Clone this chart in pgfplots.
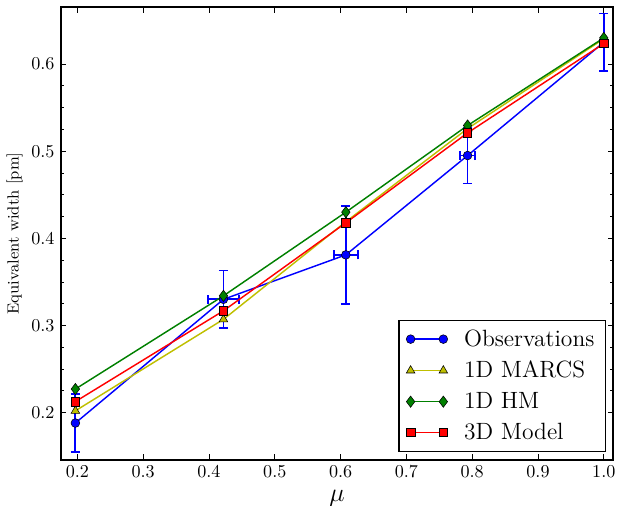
\documentclass[border=0pt]{standalone}
\usepackage{pgfplots}
\pgfplotsset{compat=1.18}
\usepackage{pgfplotstable}
\definecolor{mplyellow}{rgb}{0.75,0.75,0}
\definecolor{mplgreen}{rgb}{0,0.5,0}
\definecolor{errblue}{rgb}{0,0,1}
\pgfplotstableread{
x y
0.197 0.188
0.422 0.330
0.608 0.381
0.793 0.495
1.000 0.625
}\obs
\pgfplotstableread{
x y
0.197 0.202
0.422 0.307
0.608 0.419
0.793 0.526
1.000 0.629
}\marcs
\pgfplotstableread{
x y
0.197 0.227
0.422 0.334
0.608 0.430
0.793 0.5295
1.000 0.630
}\hm
\pgfplotstableread{
x y
0.197 0.2126
0.422 0.3168
0.608 0.4178
0.793 0.521
1.000 0.6236
}\threed
\begin{document}
\begin{tikzpicture}
\begin{axis}[
  scale only axis,
  width=303.6bp, height=249bp,
  xmin=0.175, xmax=1.014,
  ymin=0.1457, ymax=0.6654,
  xtick={0.2,0.3,...,1.0},
  ytick={0.2,0.3,0.4,0.5,0.6},
  minor y tick num=3,
  tick align=inside,
  major tick length=3bp,
  minor tick length=1.7bp,
  tick style={black, line width=0.4pt},
  axis line style={line width=0.8pt},
  ticklabel style={font=\fontsize{10}{12}\selectfont},
  xticklabel style={/pgf/number format/.cd, fixed, fixed zerofill, precision=1},
  yticklabel style={/pgf/number format/.cd, fixed, fixed zerofill, precision=1},
  xlabel={$\mu$},
  xlabel style={font=\fontsize{15}{17}\selectfont, yshift=0bp},
  ylabel={Equivalent width [pm]},
  ylabel style={font=\fontsize{8.9}{10}\selectfont, yshift=-2bp},
  unbounded coords=jump,
  legend cell align=left,
  legend style={at={(0.987,0.018)}, anchor=south east, draw=black, line width=0.6pt,
    font=\fontsize{13}{15}\selectfont, row sep=2.6bp, inner xsep=4bp, inner ysep=3bp},
  legend image code/.code={\draw[mark repeat=2, mark phase=1, line width=0.8pt] plot coordinates {(0bp,0bp) (9bp,0bp) (18bp,0bp)}; \path (27bp,0bp);},
]
% error bars of the observations (bars and caps)
\addplot[draw=errblue, color=errblue, line width=1bp, forget plot, mark=none] coordinates {
  (0.197,0.155) (0.197,0.221) (nan,nan)
  (0.422,0.297) (0.422,0.363) (nan,nan)
  (0.608,0.325) (0.608,0.437) (nan,nan)
  (0.793,0.463) (0.793,0.527) (nan,nan)
  (1.000,0.592) (1.000,0.658) (nan,nan)
  (0.398,0.330) (0.446,0.330) (nan,nan)
  (0.590,0.381) (0.626,0.381) (nan,nan)
  (0.782,0.495) (0.804,0.495) (nan,nan)
  (0.190,0.155) (0.204,0.155) (nan,nan)
  (0.190,0.221) (0.204,0.221) (nan,nan)
  (0.415,0.297) (0.429,0.297) (nan,nan)
  (0.415,0.363) (0.429,0.363) (nan,nan)
  (0.601,0.325) (0.615,0.325) (nan,nan)
  (0.601,0.437) (0.615,0.437) (nan,nan)
  (0.786,0.463) (0.800,0.463) (nan,nan)
  (0.786,0.527) (0.800,0.527) (nan,nan)
  (0.993,0.592) (1.007,0.592) (nan,nan)
  (0.993,0.658) (1.007,0.658) (nan,nan)
  (0.398,0.3248) (0.398,0.3352) (nan,nan)
  (0.446,0.3248) (0.446,0.3352) (nan,nan)
  (0.590,0.3758) (0.590,0.3862) (nan,nan)
  (0.626,0.3758) (0.626,0.3862) (nan,nan)
  (0.782,0.4898) (0.782,0.5002) (nan,nan)
  (0.804,0.4898) (0.804,0.5002)
};
\addplot[blue, line width=0.8pt, mark=*, mark size=2.4bp, mark options={draw=black, fill=blue, line width=0.3pt}]
  table[x=x, y=y] {\obs};
\addlegendentry{Observations}
\addplot[mplyellow, line width=0.8pt, mark=triangle*, mark size=2.7bp, mark options={draw=black, fill=mplyellow, line width=0.3pt}]
  table[x=x, y=y] {\marcs};
\addlegendentry{1D MARCS}
\addplot[mplgreen, line width=0.8pt, mark=diamond*, mark size=3.1bp, mark options={draw=black, fill=mplgreen, line width=0.3pt}]
  table[x=x, y=y] {\hm};
\addlegendentry{1D HM}
\addplot[red, line width=0.8pt, mark=square*, mark size=2.3bp, mark options={draw=black, fill=red, line width=0.3pt}]
  table[x=x, y=y] {\threed};
\addlegendentry{3D Model}
\end{axis}
\path (current axis.south west) ++(-33.5bp,-25.3bp) coordinate (bbsw);
\path (current axis.north east) ++(2.2bp,3.9bp) coordinate (bbne);
\pgfresetboundingbox
\useasboundingbox (bbsw) rectangle (bbne);
\end{tikzpicture}
\end{document}
